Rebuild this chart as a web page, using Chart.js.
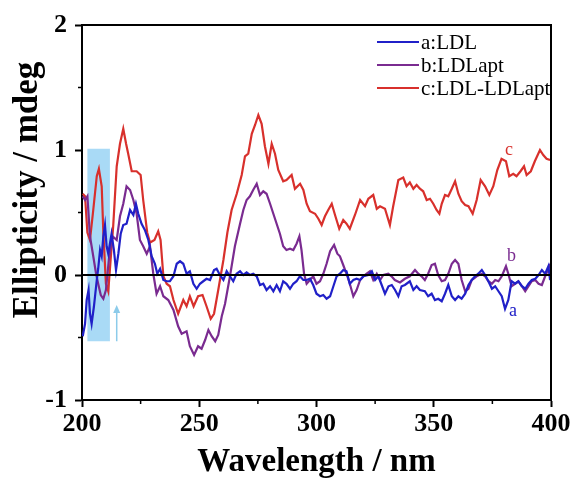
<!DOCTYPE html>
<html>
<head>
<meta charset="utf-8">
<title>CD spectra</title>
<script src="https://cdn.jsdelivr.net/npm/chart.js@4.4.0/dist/chart.umd.min.js"></script>
<style>
  html, body { margin: 0; padding: 0; background: #fff; }
  #wrap { width: 571px; height: 479px; }
</style>
</head>
<body>
<div id="wrap"><canvas id="cd-chart" width="571" height="479"></canvas></div>
<script>
// wavelength (nm) / ellipticity (mdeg) pairs for each sample
const ldlWave = [200.3, 201.3, 202, 202.8, 203.4, 204.1, 205.1, 206.3, 206.9, 207.7, 208.4, 209.1, 209.8, 210.5, 211.2, 211.9, 212.6, 213.6, 214.5, 215.5, 216.5, 217.6, 219, 220.5, 221.9, 223, 224, 225.4, 226.8, 228.3, 229.7, 231.1, 232.1, 233.3, 234.7, 236.1, 237.5, 239, 240.4, 241.8, 243.2, 244.6, 246, 247.5, 248.9, 250.3, 251.7, 253.1, 254.6, 256.3, 257.4, 258.8, 260.3, 261.7, 263.1, 264.5, 265.9, 267.4, 268.8, 270.2, 271.6, 273, 274.5, 275.9, 277.3, 278.7, 280.2, 281.6, 283, 284.4, 285.8, 287.2, 288.7, 290.1, 291.5, 292.9, 294.4, 295.8, 297.2, 298.6, 300, 301.5, 302.9, 304.3, 305.8, 307.2, 308.6, 310, 311.4, 312.8, 314.2, 315.7, 317.1, 318.6, 320, 322.1, 323.6, 325, 326.4, 327.8, 329.2, 330.7, 332.1, 333.5, 334.9, 336.3, 337.7, 339.8, 341.3, 342.7, 344.1, 346.2, 347.6, 349.1, 350.5, 351.9, 353.4, 354.8, 356.2, 357.7, 359.1, 360.5, 361.9, 363.4, 364.8, 366.2, 367.6, 369, 370.5, 371.9, 373.3, 374.8, 376.2, 377.6, 379, 380.4, 381.8, 383.2, 384.7, 386.1, 387.6, 389, 390.4, 391.8, 393.3, 394.7, 396.1, 397.5, 398.9, 399.6];
const ldlVals = [-0.49, -0.39, -0.2, -0.12, -0.31, -0.39, -0.25, -0.04, 0.05, 0.2, 0.15, 0.31, 0.4, 0.23, 0.17, 0.25, 0.33, 0.2, 0.04, 0.17, 0.33, 0.4, 0.41, 0.52, 0.48, 0.57, 0.49, 0.41, 0.36, 0.28, 0.15, 0.09, 0.01, 0.05, -0.04, -0.05, -0.05, -0.01, 0.09, 0.11, 0.09, 0.01, 0.03, -0.07, -0.11, -0.07, -0.05, -0.03, -0.04, 0.04, 0.05, 0, -0.04, 0.03, -0.01, -0.05, 0.01, 0.03, 0, 0.02, 0, 0.01, -0.01, -0.08, -0.07, -0.12, -0.09, -0.13, -0.08, -0.13, -0.05, -0.07, -0.11, -0.07, -0.05, -0.01, -0.04, -0.04, -0.03, -0.08, -0.15, -0.17, -0.16, -0.19, -0.17, -0.09, -0.01, 0.01, 0.04, 0.03, -0.07, -0.04, -0.03, -0.04, -0.01, 0, 0.03, -0.04, -0.01, -0.08, -0.15, -0.09, -0.08, -0.12, -0.17, -0.09, -0.08, -0.05, -0.12, -0.09, -0.12, -0.13, -0.17, -0.15, -0.2, -0.19, -0.21, -0.15, -0.08, -0.17, -0.2, -0.17, -0.19, -0.15, -0.08, -0.04, -0.01, 0.01, 0.04, 0, -0.05, -0.11, -0.09, -0.13, -0.17, -0.27, -0.2, -0.05, -0.07, -0.05, -0.09, -0.11, -0.07, -0.04, -0.03, 0, 0.04, 0.01, 0.07, -0.04];

const aptWave = [200.3, 201.3, 202.3, 203.4, 204.8, 206, 206.9, 208, 209.1, 210.2, 211.6, 213, 214.8, 216.2, 217.6, 219, 220.5, 221.9, 223.3, 224.7, 226.1, 227.6, 229, 230.4, 231.8, 233.3, 234.7, 236.8, 239, 241, 242.5, 244.6, 246, 247.8, 249.5, 251, 252.5, 253.9, 255.3, 256.8, 258.1, 259.6, 261, 263.1, 265.2, 267.4, 268.8, 270.2, 271.6, 273, 274.5, 275.9, 277.3, 278.7, 280.2, 281.6, 283, 284.4, 285.8, 287.2, 288.7, 290.1, 291.5, 292.7, 293.6, 294.7, 295.8, 297.2, 298.6, 300, 301.5, 302.9, 304.3, 305.8, 307.5, 308.9, 310, 311.4, 312.8, 314.2, 315.7, 317.1, 318.6, 320, 321.4, 322.8, 324.2, 325.7, 327.1, 328.5, 330.6, 332, 333.4, 335.6, 337.7, 339.8, 342, 343.4, 344.8, 346.2, 347.6, 349.1, 350.5, 351.9, 353.4, 354.8, 356.2, 357.7, 359.1, 360.5, 361.9, 363.4, 364.8, 366.2, 368.3, 370.5, 371.9, 373.3, 374.8, 376.2, 377.6, 379, 380.8, 381.8, 383.2, 384.7, 386.1, 387.6, 389, 390.4, 391.8, 393.3, 394.7, 396.1, 397.5, 398.9, 399.6];
const aptVals = [0.63, 0.6, 0.63, 0.31, 0.15, 0.01, -0.07, -0.16, -0.19, -0.12, 0.15, 0.31, 0.28, 0.47, 0.57, 0.71, 0.68, 0.6, 0.49, 0.28, 0.23, 0.17, 0.23, 0.01, -0.15, -0.09, -0.17, -0.2, -0.28, -0.41, -0.47, -0.45, -0.57, -0.64, -0.57, -0.59, -0.52, -0.44, -0.49, -0.53, -0.48, -0.33, -0.23, -0.01, 0.23, 0.41, 0.52, 0.6, 0.63, 0.68, 0.73, 0.64, 0.67, 0.65, 0.57, 0.49, 0.41, 0.33, 0.23, 0.2, 0.21, 0.2, 0.25, 0.31, 0.2, 0.01, -0.07, -0.04, -0.01, -0.07, -0.05, 0.01, 0.09, 0.19, 0.24, 0.17, 0.15, 0.08, 0.01, -0.07, -0.17, -0.12, -0.04, -0.01, 0.01, 0.03, -0.04, 0.01, -0.04, 0, 0.01, -0.01, -0.04, -0.06, -0.03, -0.01, 0.04, 0.01, -0.01, -0.04, 0.01, 0.08, 0.09, 0, -0.05, -0.04, 0.01, 0.09, 0.12, 0.09, -0.04, -0.13, -0.11, -0.04, -0.01, 0.01, -0.01, -0.05, -0.07, -0.04, -0.05, -0.01, 0.07, 0.01, -0.09, -0.07, -0.05, -0.09, -0.13, -0.09, -0.05, -0.04, -0.07, -0.08, -0.01, 0.05, 0.09];

const mixWave = [200.3, 201.3, 202.3, 203.4, 204.8, 206.3, 207.2, 208.4, 209.1, 210.2, 211.2, 212.2, 213.3, 214.8, 216.2, 217.6, 218.8, 219.7, 221.2, 223.3, 225, 226.1, 227.8, 229, 230.9, 232.5, 233.5, 234.7, 236.1, 237.5, 239, 241, 243.2, 244.6, 246, 247.6, 249.5, 251.4, 253.1, 254.9, 256.3, 258.1, 260.3, 262, 263.8, 266, 268.1, 269.5, 270.9, 272.4, 273.8, 275.2, 276.6, 278, 279.5, 280.9, 282.3, 283.7, 285.8, 287.2, 289.4, 290.8, 293, 294.4, 295.8, 297.2, 299.4, 300.8, 302.2, 303.6, 305, 306.5, 307.9, 309.7, 311.4, 312.8, 314.2, 316.4, 318.6, 320.7, 322.1, 324.2, 325.7, 327.1, 329.2, 331.3, 332.7, 334.9, 337, 338.4, 339.8, 341.3, 342.7, 344.1, 345.5, 347, 348.4, 349.8, 351.2, 352.4, 353.4, 354.8, 356.2, 357.7, 359.1, 360.5, 361.9, 363.4, 364.8, 366.6, 368.3, 370, 371.9, 373.7, 375.4, 377.1, 378.9, 380.8, 382.2, 383.9, 385.3, 387, 388.5, 389.6, 391.4, 393.1, 395.3, 396.7, 398.1, 399.6];
const mixVals = [0.65, 0.63, 0.34, 0.28, 0.52, 0.79, 0.85, 0.71, 0.34, -0.07, -0.13, 0.12, 0.39, 0.87, 1.05, 1.17, 1.05, 0.97, 0.83, 0.83, 0.8, 0.6, 0.34, 0.26, 0.28, 0.35, 0.28, -0.01, -0.07, -0.09, -0.2, -0.31, -0.2, -0.25, -0.17, -0.25, -0.17, -0.16, -0.25, -0.35, -0.31, -0.12, 0.12, 0.34, 0.52, 0.65, 0.8, 0.95, 0.97, 1.13, 1.2, 1.28, 1.21, 1.03, 0.89, 1.05, 0.97, 0.84, 0.75, 0.76, 0.8, 0.69, 0.73, 0.68, 0.57, 0.51, 0.49, 0.45, 0.4, 0.47, 0.52, 0.57, 0.48, 0.37, 0.44, 0.41, 0.37, 0.48, 0.6, 0.55, 0.61, 0.64, 0.53, 0.55, 0.53, 0.4, 0.55, 0.76, 0.78, 0.71, 0.74, 0.69, 0.72, 0.69, 0.67, 0.6, 0.61, 0.57, 0.52, 0.49, 0.57, 0.64, 0.63, 0.69, 0.75, 0.65, 0.59, 0.56, 0.55, 0.49, 0.6, 0.76, 0.71, 0.64, 0.71, 0.84, 0.93, 0.91, 0.79, 0.81, 0.79, 0.83, 0.87, 0.8, 0.83, 0.91, 1.0, 0.96, 0.93, 0.92];

const seriesNames = ['a:LDL', 'b:LDLapt', 'c:LDL-LDLapt'];
const seriesTags = ['a', 'b', 'c'];
const seriesColors = ['#2020c8', '#7a2b90', '#d8302c'];
// where the a/b/c tags sit, in data units
const tagX = [383.8, 383.2, 382.1];
const tagY = [-0.29, 0.15, 1.0];

// highlighted band and the arrow under it
const bandX = [202.3, 211.9];
const bandY = [-0.53, 1.01];
const arrowX = 214.8;
const arrowY = [-0.53, -0.24];

const xMinor = [225, 275, 325, 375];
const yMinor = [1.5, 0.5, -0.5];

const yTitle = 'Ellipticity / mdeg';
const serif = "'Liberation Serif', 'Times New Roman', serif";

function toPoints(xs, ys) {
  return xs.map((x, i) => ({ x: x, y: ys[i] }));
}

const decorations = {
  id: 'decorations',
  beforeDatasetsDraw(chart) {
    const { ctx, scales: { x, y } } = chart;
    ctx.save();
    ctx.fillStyle = 'rgba(160, 214, 245, 0.9)';
    const x0 = x.getPixelForValue(bandX[0]), x1 = x.getPixelForValue(bandX[1]);
    const y0 = y.getPixelForValue(bandY[1]), y1 = y.getPixelForValue(bandY[0]);
    ctx.fillRect(x0, y0, x1 - x0, y1 - y0);
    ctx.restore();
  },
  afterDatasetsDraw(chart) {
    const { ctx, chartArea: a, scales: { x, y } } = chart;
    ctx.save();

    // zero line
    ctx.strokeStyle = '#000';
    ctx.lineWidth = 2;
    const y0 = Math.round(y.getPixelForValue(0));
    ctx.beginPath();
    ctx.moveTo(a.left, y0);
    ctx.lineTo(a.right, y0);
    ctx.stroke();

    // top and right sides of the frame
    ctx.beginPath();
    ctx.moveTo(a.left, a.top);
    ctx.lineTo(a.right, a.top);
    ctx.lineTo(a.right, a.bottom);
    ctx.stroke();

    // minor ticks
    ctx.lineWidth = 1.5;
    ctx.beginPath();
    xMinor.forEach(v => {
      const px = x.getPixelForValue(v);
      ctx.moveTo(px, a.bottom);
      ctx.lineTo(px, a.bottom + 4);
    });
    yMinor.forEach(v => {
      const py = y.getPixelForValue(v);
      ctx.moveTo(a.left, py);
      ctx.lineTo(a.left - 4, py);
    });
    ctx.stroke();

    // arrow
    const ax = x.getPixelForValue(arrowX);
    const ayb = y.getPixelForValue(arrowY[0]);
    const ayt = y.getPixelForValue(arrowY[1]);
    ctx.strokeStyle = '#8ccbea';
    ctx.fillStyle = '#8ccbea';
    ctx.lineWidth = 1.5;
    ctx.beginPath();
    ctx.moveTo(ax, ayb);
    ctx.lineTo(ax, ayt + 6);
    ctx.stroke();
    ctx.beginPath();
    ctx.moveTo(ax, ayt);
    ctx.lineTo(ax - 3.5, ayt + 8);
    ctx.lineTo(ax + 3.5, ayt + 8);
    ctx.closePath();
    ctx.fill();

    // curve tags
    ctx.font = '18px ' + serif;
    ctx.textAlign = 'center';
    ctx.textBaseline = 'middle';
    seriesTags.forEach((t, i) => {
      ctx.fillStyle = seriesColors[i];
      ctx.fillText(t, x.getPixelForValue(tagX[i]), y.getPixelForValue(tagY[i]));
    });

    // legend
    ctx.font = '21px ' + serif;
    ctx.textAlign = 'left';
    ctx.lineWidth = 2;
    chart.data.datasets.forEach((ds, i) => {
      const ly = 42 + i * 23;
      ctx.strokeStyle = ds.borderColor;
      ctx.beginPath();
      ctx.moveTo(377, ly);
      ctx.lineTo(419, ly);
      ctx.stroke();
      ctx.fillStyle = '#000';
      ctx.fillText(ds.label, 421, ly + 1);
    });

    // y axis title, set a bit above the axis centre
    ctx.font = 'bold 35px ' + serif;
    ctx.fillStyle = '#000';
    ctx.textAlign = 'center';
    ctx.translate(28, 190);
    ctx.rotate(-Math.PI / 2);
    ctx.fillText(yTitle, 0, 0);

    ctx.restore();
  }
};

const tickFont = { family: serif, size: 26, weight: 'bold' };

new Chart(document.getElementById('cd-chart'), {
  type: 'line',
  data: {
    datasets: [
      { label: seriesNames[0], data: toPoints(ldlWave, ldlVals), borderColor: seriesColors[0] },
      { label: seriesNames[1], data: toPoints(aptWave, aptVals), borderColor: seriesColors[1] },
      { label: seriesNames[2], data: toPoints(mixWave, mixVals), borderColor: seriesColors[2] }
    ]
  },
  options: {
    responsive: false,
    animation: false,
    layout: { padding: { top: 25, right: 20, left: 0, bottom: 0 } },
    elements: {
      point: { radius: 0 },
      line: { borderWidth: 2.2, tension: 0 }
    },
    plugins: {
      legend: { display: false },
      tooltip: { enabled: false }
    },
    scales: {
      x: {
        type: 'linear',
        min: 200,
        max: 400,
        ticks: { stepSize: 50, color: '#000', font: tickFont, padding: 2, maxRotation: 0 },
        grid: { drawOnChartArea: false, tickLength: 7, tickWidth: 2, tickColor: '#000' },
        border: { color: '#000', width: 2 },
        title: {
          display: true,
          text: 'Wavelength / nm',
          color: '#000',
          font: { family: serif, size: 33, weight: 'bold', lineHeight: 1.0 },
          padding: { top: 0, bottom: 0 }
        },
        afterFit(scale) {
          scale.height = 79;
          // let the end labels hang past the plot edge
          scale.paddingLeft = 0;
          scale.paddingRight = 0;
        }
      },
      y: {
        min: -1,
        max: 2,
        ticks: { stepSize: 1, color: '#000', font: tickFont, padding: 8 },
        grid: { drawOnChartArea: false, tickLength: 7, tickWidth: 2, tickColor: '#000' },
        border: { color: '#000', width: 2 },
        afterFit(scale) { scale.width = 82; }
      }
    }
  },
  plugins: [decorations]
});
</script>
</body>
</html>
